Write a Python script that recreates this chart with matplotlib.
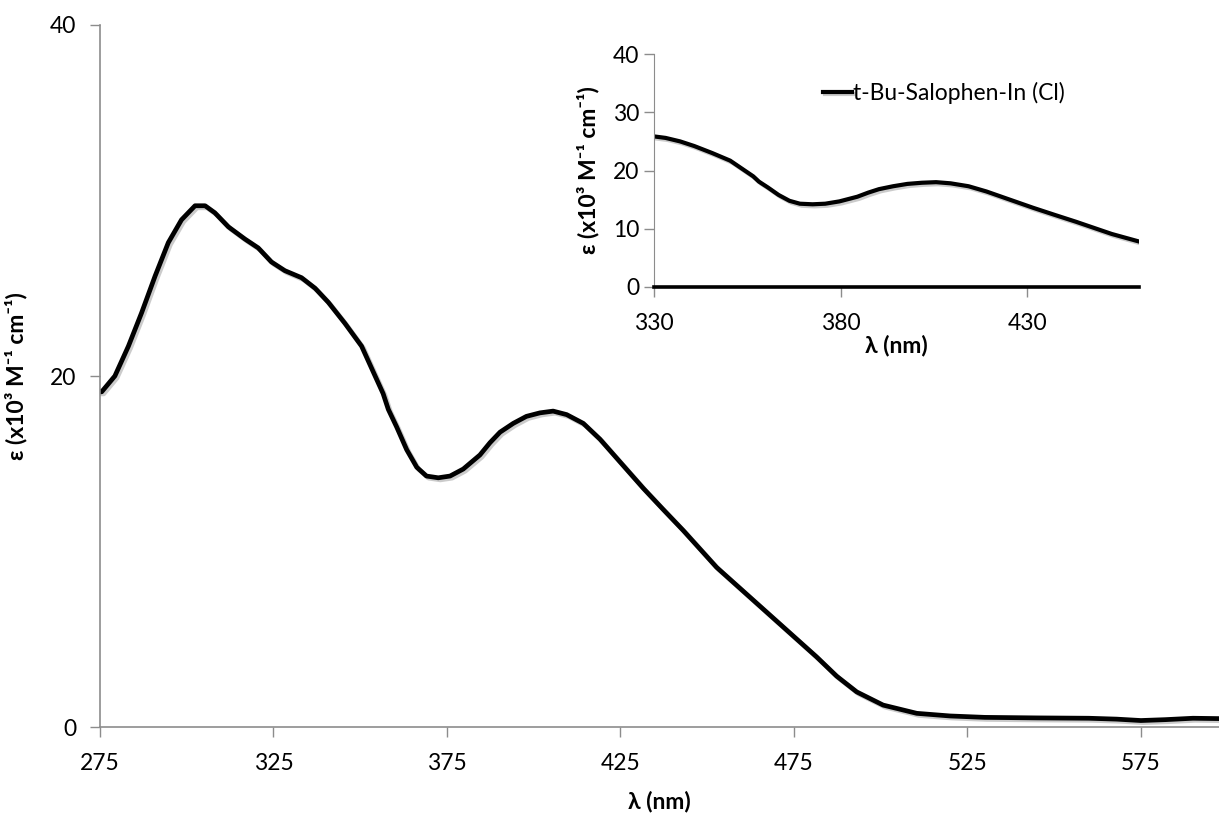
import numpy as np
import matplotlib.pyplot as plt
import matplotlib.patheffects as pe

# absorption spectrum, t-Bu-Salophen-In (Cl)
wavelength = [275.0, 275.5, 279.3, 283.2, 287.0, 290.9, 294.7, 298.5, 302.4, 305.3,
              308.1, 312.0, 316.8, 320.6, 324.4, 328.3, 333.1, 337.0, 340.8, 345.6,
              350.4, 354.3, 356.6, 358.1, 360.5, 363.4, 366.3, 369.1, 372.5, 375.9,
              379.7, 384.5, 387.4, 390.3, 394.1, 397.9, 401.8, 405.6, 409.5, 414.3,
              419.1, 424.9, 431.6, 437.3, 443.1, 452.7, 462.3, 471.9, 481.5, 487.3,
              493.1, 500.7, 510.4, 520.0, 530.0, 545.0, 560.0, 568.0, 575.0, 582.0,
              590.0, 597.5]
epsilon = [19.1, 19.1, 20.0, 21.7, 23.6, 25.7, 27.6, 28.9, 29.7, 29.7,
           29.3, 28.5, 27.8, 27.3, 26.5, 26.0, 25.6, 25.0, 24.2, 23.0,
           21.7, 20.0, 19.0, 18.1, 17.1, 15.8, 14.8, 14.3, 14.2, 14.3,
           14.7, 15.5, 16.2, 16.8, 17.3, 17.7, 17.9, 18.0, 17.8, 17.3,
           16.4, 15.1, 13.6, 12.4, 11.2, 9.1, 7.4, 5.7, 4.0, 2.9,
           2.0, 1.25, 0.78, 0.63, 0.55, 0.52, 0.5, 0.45, 0.37, 0.42,
           0.5, 0.48]
series_name = 't-Bu-Salophen-In (Cl)'

main_xticks = [275, 325, 375, 425, 475, 525, 575]
main_yticks = [0, 20, 40]
inset_xticks = [330, 380, 430]
inset_yticks = [0, 10, 20, 30, 40]

fam = ['Lato', 'DejaVu Sans']
plt.rcParams['font.family'] = fam
grey = '#8c8c8c'
ylab = 'ε (x10³ M⁻¹ cm⁻¹)'
xlab = 'λ (nm)'
fs = 16.5
shadow = [pe.SimpleLineShadow(offset=(1.5, -1.5), shadow_color='#999999', alpha=0.5),
          pe.Normal()]

fig = plt.figure(figsize=(12.19, 8.19), dpi=100)

# main spectrum
ax = fig.add_axes([0.082, 0.1123, 0.918, 0.8572])
ax.plot(wavelength, epsilon, color='black', lw=3.4, solid_joinstyle='round',
        path_effects=shadow)
ax.set_xlim(275, 597.5)
ax.set_ylim(0, 40)
ax.set_xticks(main_xticks)
ax.set_yticks(main_yticks)
for s in ['top', 'right']:
    ax.spines[s].set_visible(False)
for s in ['left', 'bottom']:
    ax.spines[s].set_color(grey)
    ax.spines[s].set_linewidth(1.2)
ax.tick_params(colors=grey, labelcolor='black', labelsize=fs, length=7, width=1)
ax.tick_params(axis='x', pad=12)
ax.tick_params(axis='y', pad=10)
ax.set_xlabel(xlab, fontsize=fs, fontweight='bold', labelpad=12)
ax.set_ylabel(ylab, fontsize=fs, fontweight='bold', labelpad=16)

# zoomed inset 330-460 nm
w = np.array(wavelength)
e = np.array(epsilon)
keep = (w >= 326) & (w <= 465)
ins = fig.add_axes([0.5365, 0.6496, 0.3979, 0.2844])
ins.plot(w[keep], e[keep], color='black', lw=3.0, solid_joinstyle='round',
         path_effects=shadow, label=series_name)
ins.set_xlim(330, 460)
ins.set_ylim(0, 40)
ins.set_xticks(inset_xticks)
ins.set_yticks(inset_yticks)
for s in ['top', 'right']:
    ins.spines[s].set_visible(False)
ins.spines['left'].set_color(grey)
ins.spines['bottom'].set_color('black')
ins.spines['bottom'].set_linewidth(2.6)
ins.tick_params(colors=grey, labelcolor='black', labelsize=fs, length=7, width=1)
ins.tick_params(axis='x', pad=12)
ins.set_xlabel(xlab, fontsize=fs, fontweight='bold', labelpad=0)
ins.set_ylabel(ylab, fontsize=fs, fontweight='bold', labelpad=10)
ins.legend(loc='upper left', bbox_to_anchor=(0.305, 0.97), frameon=False, fontsize=fs,
           handlelength=1.3, handletextpad=0.05)

fig.savefig('out.png', dpi=100)
